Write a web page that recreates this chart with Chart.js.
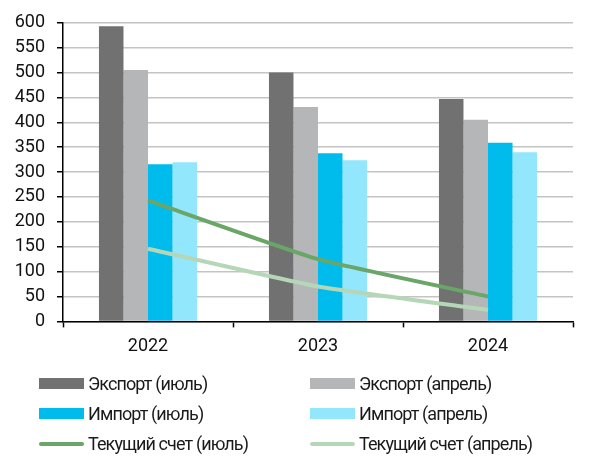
<!DOCTYPE html>
<html>
<head>
<meta charset="utf-8">
<script src="https://cdn.jsdelivr.net/npm/chart.js@4"></script>
<style>
  body { margin: 0; background: #fff; }
  #wrap { position: relative; width: 598px; height: 457px; }
  #box { position: absolute; left: 0; top: 0; width: 598px; height: 368px; }
  #legend { position: absolute; left: 0; top: 0; width: 598px; height: 457px; pointer-events: none;
    font-family: Roboto, "Noto Sans", sans-serif; font-size: 18px; letter-spacing: -0.9px; color: #1a1a1a; }
  .item { position: absolute; height: 24px; line-height: 24px; white-space: nowrap; }
  .sw { position: absolute; left: 0; }
  .lbl { position: absolute; left: 49px; top: 0; }
</style>
</head>
<body>
<div id="wrap">
  <div id="box"><canvas id="chart"></canvas></div>
  <div id="legend"></div>
</div>
<script>
// данные (млрд долл.)
const years = ['2022', '2023', '2024'];
const exportJul = [593, 500, 447];
const exportApr = [505, 431, 405];
const importJul = [316, 338, 359];
const importApr = [320, 324, 340];
const caJul = [243, 125, 50];
const caApr = [146, 70, 23];
const seriesNames = ['Экспорт (июль)', 'Экспорт (апрель)', 'Импорт (июль)', 'Импорт (апрель)', 'Текущий счет (июль)', 'Текущий счет (апрель)'];

const font = { family: 'Roboto, "Noto Sans", sans-serif', size: 18 };

const bar = (label, data, color) => ({
  type: 'bar', label, data, backgroundColor: color, borderWidth: 0,
  categoryPercentage: 0.577, barPercentage: 1, order: 1
});
const line = (label, data, color) => ({
  type: 'line', label, data, borderColor: color, backgroundColor: color,
  borderWidth: 4, pointRadius: 0, tension: 0.15, fill: false, order: 0
});

const datasets = [
  bar(seriesNames[0], exportJul, '#707170'),
  bar(seriesNames[1], exportApr, '#b5b6b8'),
  bar(seriesNames[2], importJul, '#00bcec'),
  bar(seriesNames[3], importApr, '#93e7fc'),
  line(seriesNames[4], caJul, '#69a667'),
  line(seriesNames[5], caApr, '#b6d7b7')
];

const chart = new Chart(document.getElementById('chart'), {
  data: { labels: years, datasets },
  options: {
    responsive: true,
    maintainAspectRatio: false,
    animation: false,
    layout: { padding: { top: 10, right: 25, bottom: 3, left: 0 } },
    plugins: { legend: { display: false }, tooltip: { enabled: false } },
    scales: {
      x: {
        offset: true,
        grid: { offset: true, drawOnChartArea: false, drawTicks: true, tickLength: 6, tickColor: '#000', tickWidth: 1.5 },
        border: { color: '#000', width: 1.5 },
        ticks: { color: '#111', font, padding: 8 }
      },
      y: {
        min: 0, max: 600,
        grid: { color: '#c4c4c4', lineWidth: 1.5, tickLength: 6, tickColor: '#000', tickWidth: 1.5 },
        border: { color: '#000', width: 1.5 },
        ticks: { stepSize: 50, color: '#111', font, padding: 12 },
        afterFit: s => { s.width = 63; }
      }
    }
  }
});

// легенда в две колонки
const legend = document.getElementById('legend');
const colX = [39, 310];
const rowY = [372, 402, 432];
datasets.forEach((ds, i) => {
  const it = document.createElement('div');
  it.className = 'item';
  it.style.left = colX[i % 2] + 'px';
  it.style.top = rowY[Math.floor(i / 2)] + 'px';
  const sw = document.createElement('div');
  sw.className = 'sw';
  sw.style.width = '45px';
  if (ds.type === 'line') {
    sw.style.height = '4px'; sw.style.top = '10px'; sw.style.borderRadius = '2px';
    sw.style.background = ds.borderColor;
  } else {
    sw.style.height = '11px'; sw.style.top = '6px';
    sw.style.background = ds.backgroundColor;
  }
  const lb = document.createElement('div');
  lb.className = 'lbl';
  lb.textContent = ds.label;
  it.appendChild(sw); it.appendChild(lb);
  legend.appendChild(it);
});
</script>
</body>
</html>
